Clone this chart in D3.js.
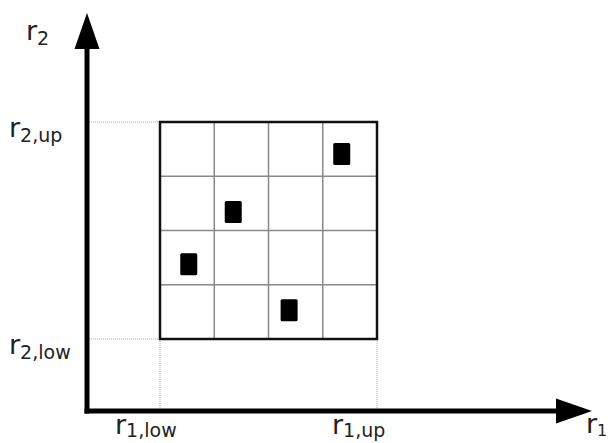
<!DOCTYPE html>
<html>
<head>
<meta charset="utf-8">
<script src="https://cdn.jsdelivr.net/npm/d3@7"></script>
<style>
  html, body { margin: 0; padding: 0; background: #fff; }
  svg { display: block; }
  text { font-family: "DejaVu Sans", Verdana, sans-serif; fill: #222; }
</style>
</head>
<body>
<svg id="chart" width="611" height="443"></svg>
<script>
// ---- data ----
const gridTicks = [0, 1, 2, 3, 4];            // cell boundaries (r1 and r2 share the same 4x4 split)
const pointsR1 = [3.35, 1.35, 0.53, 2.38];    // sample positions along r1
const pointsR2 = [3.41, 2.34, 1.38, 0.53];    // sample positions along r2
const axisTitles = [{main: "r", sub: "1"}, {main: "r", sub: "2"}];
const r1TickLabels = [{main: "r", sub: "1,low", v: 0}, {main: "r", sub: "1,up", v: 4}];
const r2TickLabels = [{main: "r", sub: "2,low", v: 0}, {main: "r", sub: "2,up", v: 4}];

// ---- layout ----
const svg = d3.select("#chart");
const x = d3.scaleLinear().domain([0, 4]).range([160, 377]);
const y = d3.scaleLinear().domain([0, 4]).range([339, 122]);
const axisX0 = 87, axisY0 = 411;     // axis origin in pixels
const xTip = 592, yTip = 13;          // arrow tips
const arrowLen = 36, arrowHalf = 12.5;

// guide lines (dotted)
const guides = svg.append("g").attr("stroke", "#aaa").attr("stroke-width", 1)
  .attr("stroke-dasharray", "1,1").attr("fill", "none");
r2TickLabels.forEach(d => {
  guides.append("line").attr("x1", axisX0).attr("x2", x(0))
    .attr("y1", y(d.v)).attr("y2", y(d.v));
});
r1TickLabels.forEach(d => {
  guides.append("line").attr("x1", x(d.v)).attr("x2", x(d.v))
    .attr("y1", y(0)).attr("y2", axisY0);
});

// inner grid
const grid = svg.append("g").attr("stroke", "#888").attr("stroke-width", 1.5);
gridTicks.slice(1, -1).forEach(t => {
  grid.append("line").attr("x1", x(t)).attr("x2", x(t)).attr("y1", y(0)).attr("y2", y(4));
  grid.append("line").attr("x1", x(0)).attr("x2", x(4)).attr("y1", y(t)).attr("y2", y(t));
});

// outer box
svg.append("rect")
  .attr("x", x(0)).attr("y", y(4))
  .attr("width", x(4) - x(0)).attr("height", y(0) - y(4))
  .attr("fill", "none").attr("stroke", "#111").attr("stroke-width", 2.5);

// sample points (black rectangles)
const rw = 17, rh = 22;
svg.append("g").selectAll("rect").data(pointsR1.map((v, i) => [v, pointsR2[i]]))
  .join("rect")
  .attr("x", d => x(d[0]) - rw / 2)
  .attr("y", d => y(d[1]) - rh / 2)
  .attr("width", rw).attr("height", rh)
  .attr("rx", 1.5)
  .attr("fill", "#000");

// axes
svg.append("line").attr("x1", axisX0 - 2.5).attr("x2", xTip - arrowLen + 2)
  .attr("y1", axisY0).attr("y2", axisY0).attr("stroke", "#000").attr("stroke-width", 5);
svg.append("line").attr("x1", axisX0).attr("x2", axisX0)
  .attr("y1", axisY0 + 2.5).attr("y2", yTip + arrowLen - 2).attr("stroke", "#000").attr("stroke-width", 5);
svg.append("path")
  .attr("d", `M${xTip},${axisY0} L${xTip - arrowLen},${axisY0 - arrowHalf} L${xTip - arrowLen},${axisY0 + arrowHalf} Z`)
  .attr("fill", "#000");
svg.append("path")
  .attr("d", `M${axisX0},${yTip} L${axisX0 - arrowHalf},${yTip + arrowLen} L${axisX0 + arrowHalf},${yTip + arrowLen} Z`)
  .attr("fill", "#000");

// labels
function label(g, d, px, py, subSize, subDy) {
  const t = g.append("text").attr("x", px).attr("y", py);
  t.append("tspan").attr("font-size", 27).text(d.main);
  t.append("tspan").attr("font-size", subSize || 19).attr("dy", subDy == null ? 5 : subDy).text(d.sub);
  return t;
}
const lg = svg.append("g");
// axis titles
label(lg, axisTitles[1], 26, 40);
label(lg, axisTitles[0], 586, 433, 16, 3);
// r2 tick labels (left of y axis)
r2TickLabels.forEach(d => label(lg, d, 9, y(d.v) + 15));
// r1 tick labels (below x axis)
r1TickLabels.forEach(d => label(lg, d, x(d.v) - 45, 434, 19, 3));
</script>
</body>
</html>
